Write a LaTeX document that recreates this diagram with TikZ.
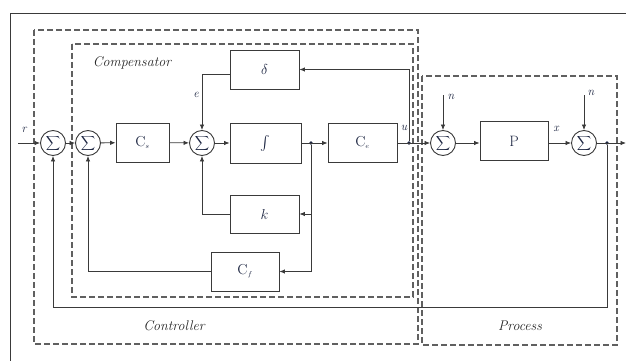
\documentclass[tikz,border=0pt]{standalone}
\usepackage{exscale}
\usetikzlibrary{arrows.meta}
\definecolor{ln}{HTML}{3A3A3A}
\definecolor{ink}{HTML}{1C2541}
\definecolor{dsh}{HTML}{606060}
\begin{document}
\begin{tikzpicture}[x=1pt,y=-1pt,
  blk/.style={draw=ln, line width=0.9pt, inner sep=0pt, text=ink, font=\fontsize{15}{17}\selectfont},
  sumnode/.style={circle, draw=ln, line width=0.9pt, minimum size=25pt, inner sep=0pt, text=ink,
    font=\fontsize{10}{12}\selectfont},
  sig/.style={draw=ln, line width=0.8pt},
  arr/.style={sig, -{Latex[length=5.5pt,width=4.5pt]}},
  dot/.style={circle, fill=ink, inner sep=0pt, minimum size=3.6pt},
  grp/.style={draw=dsh, dash pattern=on 6pt off 3pt, line width=1.15pt},
  lbl/.style={text=ink, font=\fontsize{12}{14}\selectfont\itshape},
  title/.style={text=black!85, font=\fontsize{14}{16}\selectfont\itshape}
]
\useasboundingbox (0,0) rectangle (626,361);

% frame
\draw[ln, line width=0.9pt] (10,361) -- (10,13) -- (626,13);

% group boundaries
\draw[grp] (34,30) rectangle (418,344);
\draw[grp] (72,44) rectangle (413,297);
\draw[grp] (422,76) rectangle (617,345);
\node[title] (tcomp) at (132,63) {Compensator};
\node[title] (tctrl) at (174,326) {Controller};
\node[title] (tproc) at (520,326) {Process};

% summing junctions
\node[sumnode] (s1) at (53,143) {$\displaystyle\sum$};
\node[sumnode] (s2) at (88,143) {$\displaystyle\sum$};
\node[sumnode] (s3) at (202,143) {$\displaystyle\sum$};
\node[sumnode] (s4) at (443,143) {$\displaystyle\sum$};
\node[sumnode] (s5) at (584,143) {$\displaystyle\sum$};

% blocks
\node[blk, minimum width=53pt, minimum height=39pt] (cs) at (142.5,142.5) {$\mathrm{C}_{\scriptscriptstyle s}$};
\node[blk, minimum width=71pt, minimum height=40pt, font=\fontsize{14}{16}\selectfont] (int) at (265.5,143) {$\int$};
\node[blk, minimum width=69pt, minimum height=39pt] (delta) at (264.5,69.5) {$\delta$};
\node[blk, minimum width=69pt, minimum height=38pt] (k) at (264.5,214) {$k$};
\node[blk, minimum width=68pt, minimum height=39pt] (cf) at (245,271.5) {$\mathrm{C}_{\scriptscriptstyle f}$};
\node[blk, minimum width=69pt, minimum height=39pt] (ce) at (362.5,142.5) {$\mathrm{C}_{\scriptscriptstyle e}$};
\node[blk, minimum width=68pt, minimum height=39pt] (p) at (514,141) {P};

% branch points
\node[dot] (d1) at (311,143) {};
\node[dot] (d2) at (409,143) {};
\node[dot] (d3) at (607,143) {};

% free ends
\coordinate (in) at (18,143);
\coordinate (out) at (626,143);
\coordinate (n1) at (443,95);
\coordinate (n2) at (584,95);
\coordinate (fb) at (607,307);

% forward path
\draw[arr] (in) -- (s1);
\draw[arr] (s1) -- (s2);
\draw[arr] (s2) -- (cs);
\draw[arr] (cs) -- (s3);
\draw[arr] (s3) -- (int);
\draw[arr] (int.east |- d1) -- (ce.west |- d1);
\draw[arr] (ce.east |- d2) -- (s4);
\draw[arr] (s4) -- (p.west |- s4);
\draw[arr] (p.east |- s5) -- (s5);
\draw[arr] (s5) -- (out);
\draw[arr] (n1) -- (s4);
\draw[arr] (n2) -- (s5);

% inner loops
\draw[arr] (d2) |- (delta.east);
\draw[arr] ([yshift=-5pt]delta.west) -| (s3.north);
\draw[arr] (d1) |- (k.east);
\draw[arr] (k.west) -| (s3.south);
\draw[arr] (d1) |- (cf.east);
\draw[arr] (cf.west) -| (s2.south);
\draw[arr] (d3) -- (fb) -| (s1.south);

% signal labels
\node[lbl] (lr) at (24,130) {r};
\node[lbl] (le) at (196,95) {e};
\node[lbl] (lu) at (404,128) {u};
\node[lbl] (ln1) at (451,97) {n};
\node[lbl] (lx) at (556,129) {x};
\node[lbl] (ln2) at (591,93) {n};
\end{tikzpicture}
\end{document}
